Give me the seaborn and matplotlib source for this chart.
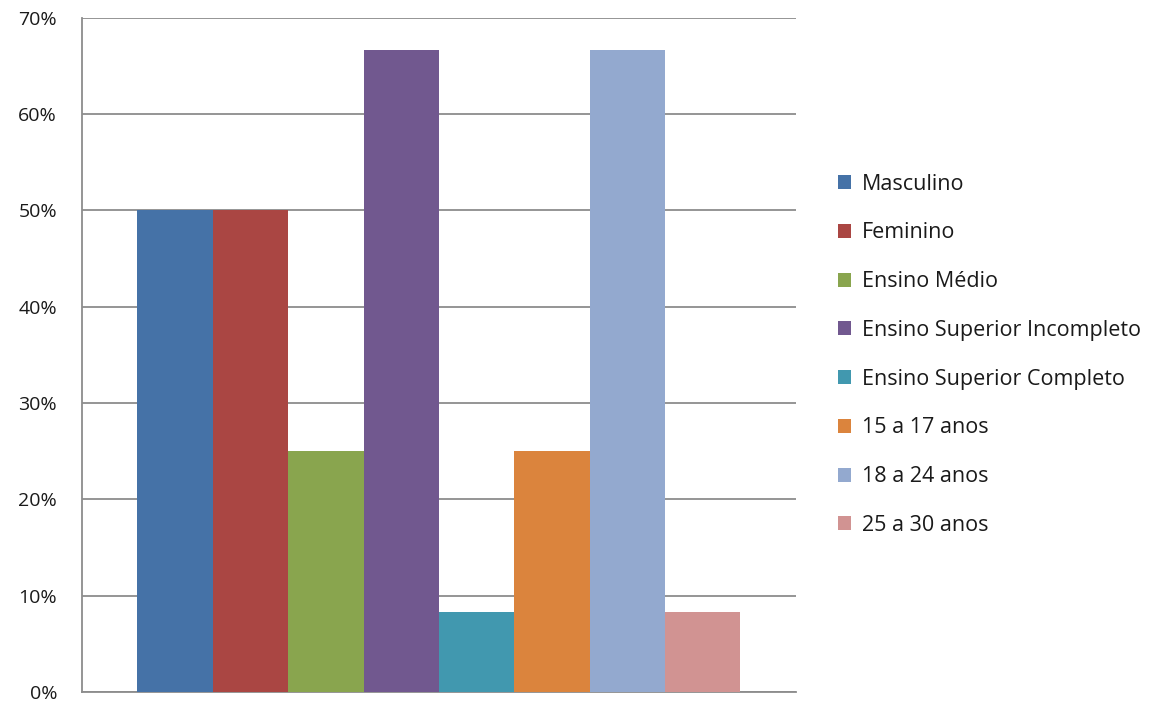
import matplotlib
matplotlib.use("Agg")
import matplotlib.pyplot as plt
import seaborn as sns
import pandas as pd
from matplotlib.ticker import PercentFormatter, MultipleLocator

# Profile of respondents (share of total, %)
categories = ["Masculino", "Feminino", "Ensino Médio", "Ensino Superior Incompleto",
              "Ensino Superior Completo", "15 a 17 anos", "18 a 24 anos", "25 a 30 anos"]
values = [50.0, 50.0, 25.0, 66.67, 8.33, 25.0, 66.67, 8.33]
colors = ["#4572A7", "#AA4643", "#89A54E", "#71588F",
          "#4198AF", "#DB843D", "#93A9CF", "#D19392"]

df = pd.DataFrame({"grupo": [""] * len(categories), "pct": values, "serie": categories})

sns.set_style("white")
plt.rcParams["font.family"] = ["Open Sans", "DejaVu Sans"]

fig = plt.figure(figsize=(11.72, 7.04), dpi=100)
ax = fig.add_axes([0.070, 0.017, 0.609, 0.958])

sns.barplot(data=df, x="grupo", y="pct", hue="serie", hue_order=categories,
            palette=colors, saturation=1, width=0.845, gap=0, ax=ax,
            edgecolor="none", linewidth=0, zorder=3)

ax.set_ylim(0, 70)
ax.set_xlim(-0.5, 0.5)
ax.yaxis.set_major_locator(MultipleLocator(10))
ax.yaxis.set_major_formatter(PercentFormatter(decimals=0))
ax.grid(axis="y", color="#8c8c8c", linewidth=1.3, zorder=0)
ax.set_axisbelow(True)
ax.set_xticks([])
ax.set_xlabel("")
ax.set_ylabel("")
ax.tick_params(axis="y", length=0, pad=18, labelsize=14, labelcolor="#1a1a1a")

for side in ["top", "right"]:
    ax.spines[side].set_visible(False)
for side in ["left", "bottom"]:
    ax.spines[side].set_color("#8c8c8c")
    ax.spines[side].set_linewidth(1.3)

handles, labels = ax.get_legend_handles_labels()
ax.legend(handles, labels, loc="center left", bbox_to_anchor=(1.059, 0.5),
          frameon=False, fontsize=15.5, handlelength=0.62, handleheight=0.62,
          handletextpad=0.5, labelspacing=1.29, borderaxespad=0, borderpad=0,
          labelcolor="#1a1a1a")

fig.savefig("out.png", dpi=100, facecolor="white")
